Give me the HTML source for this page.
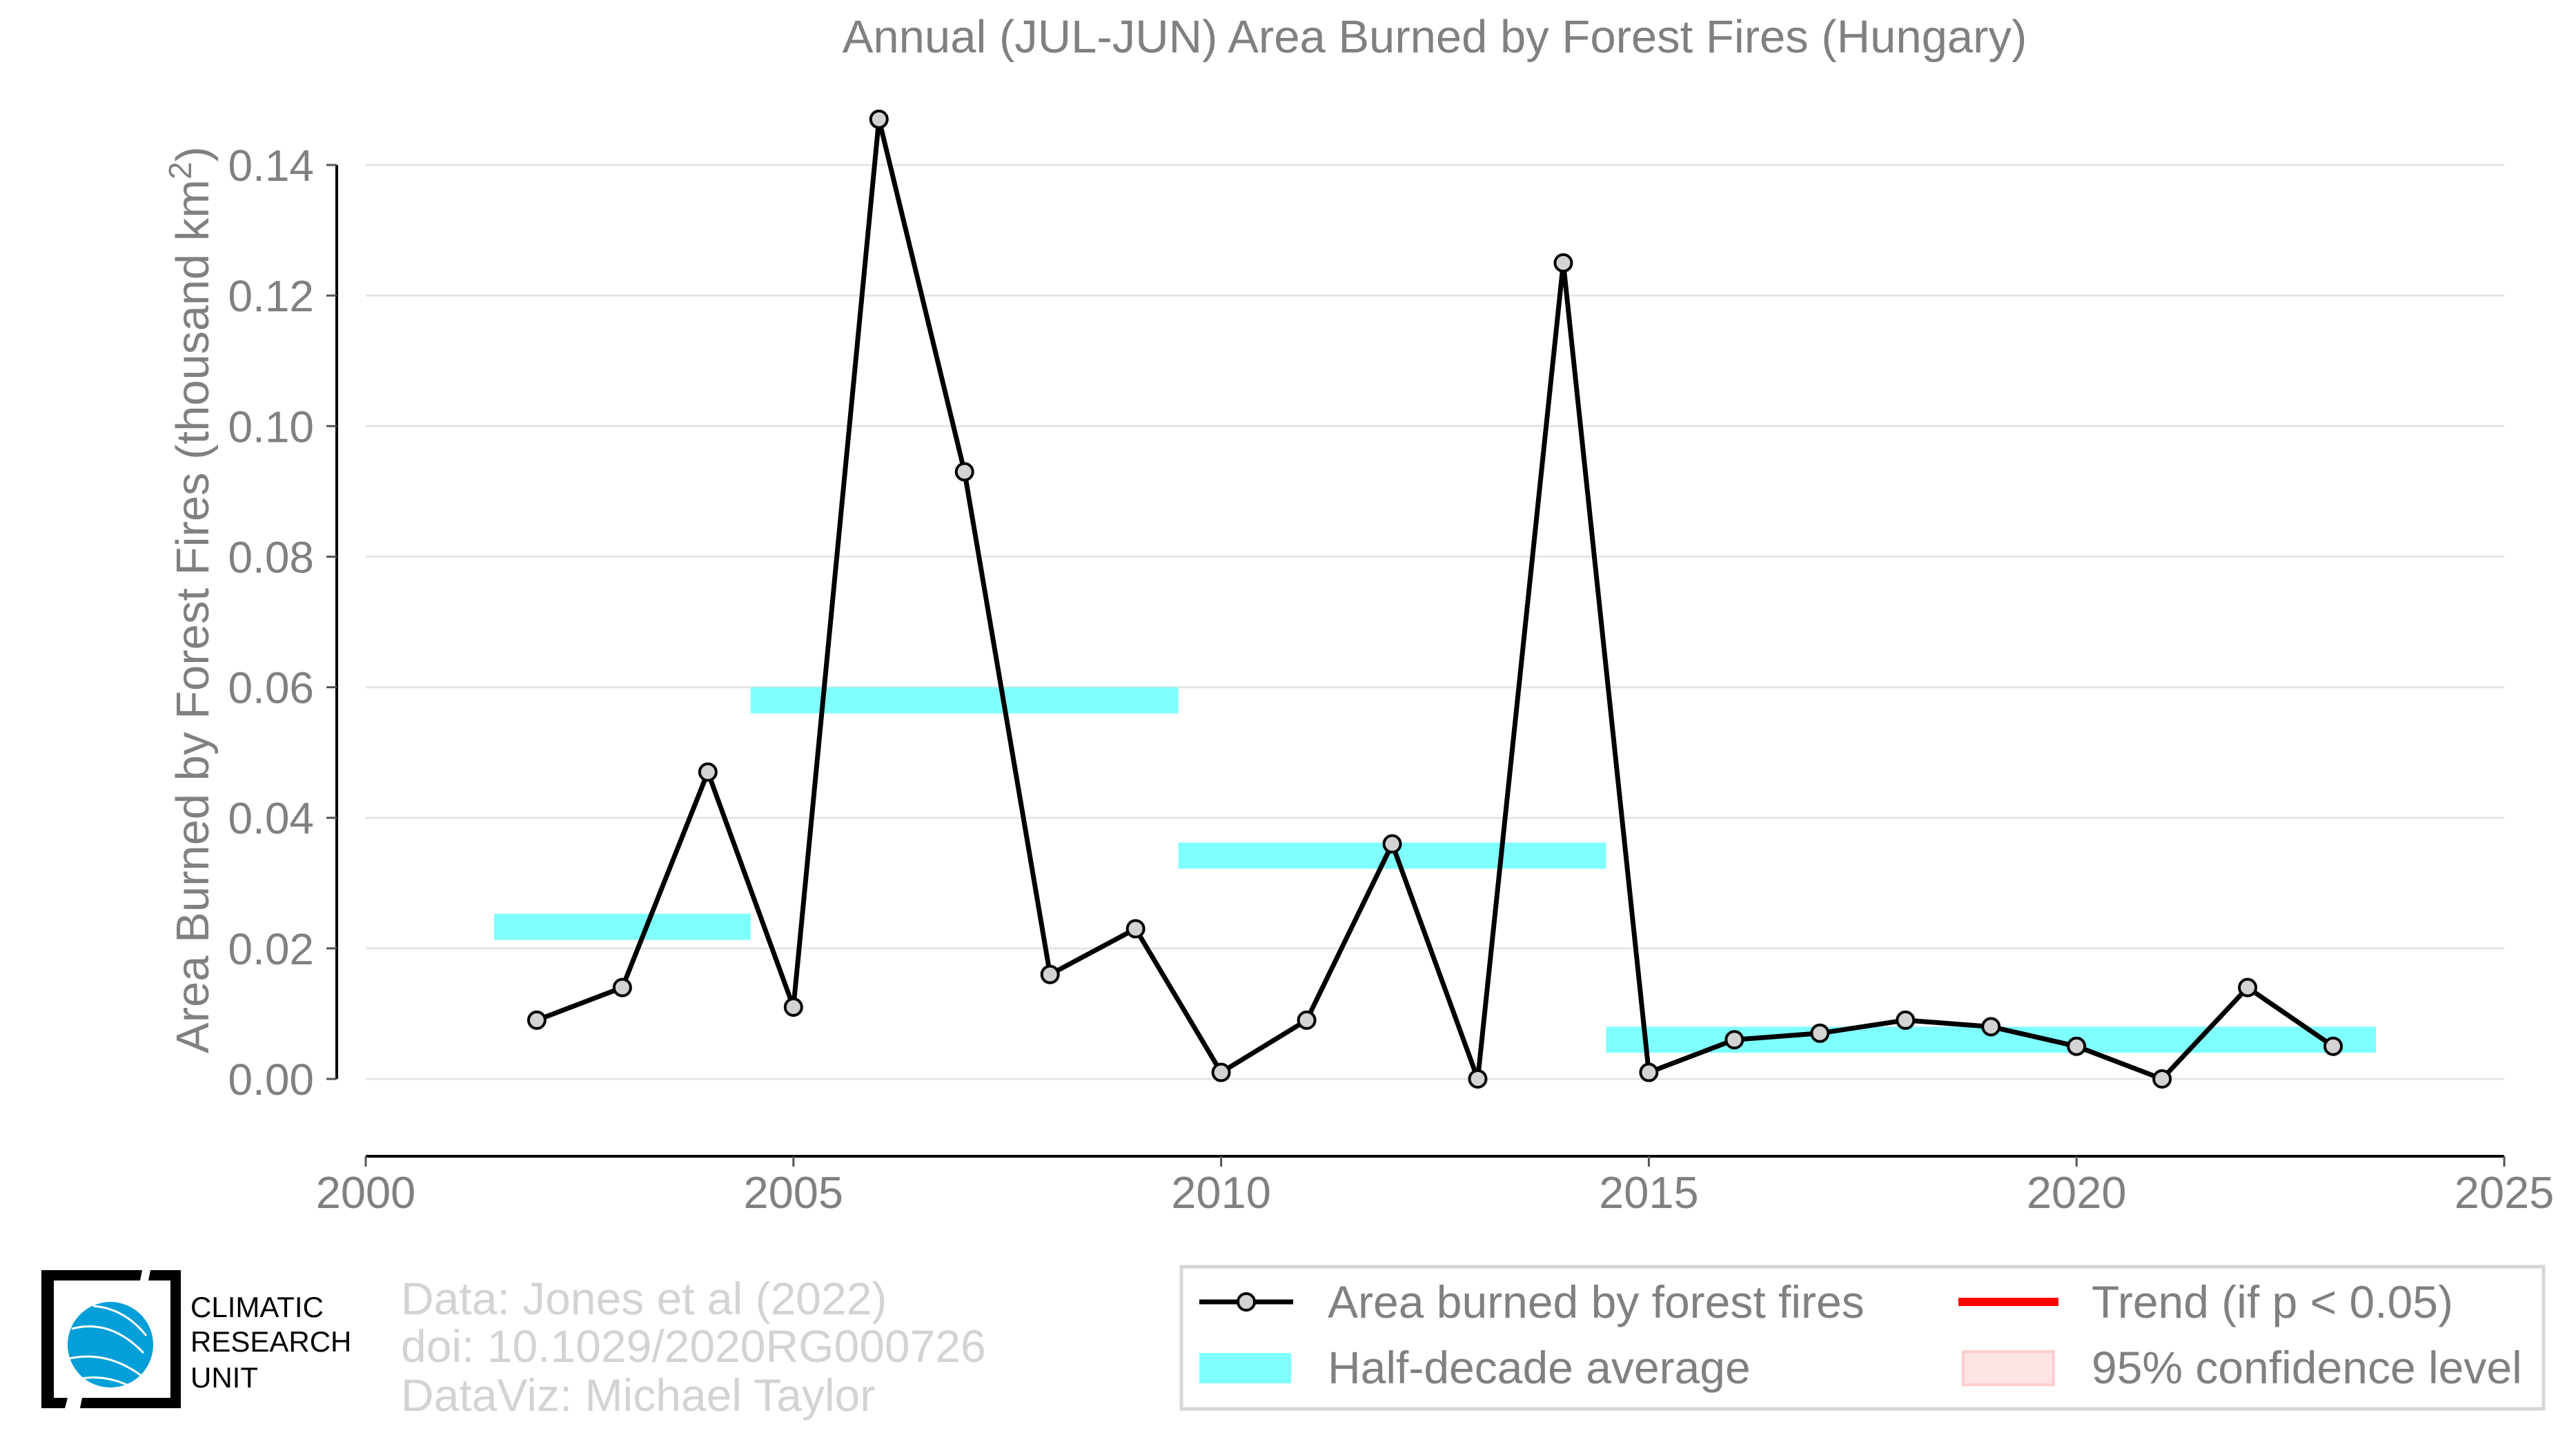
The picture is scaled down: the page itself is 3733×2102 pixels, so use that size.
<!DOCTYPE html>
<html><head><meta charset="utf-8">
<style>
html,body{margin:0;padding:0;background:#fff;}
svg{display:block;font-family:"Liberation Sans",Arial,sans-serif;}
</style></head>
<body>
<svg id="chart" width="3733" height="2102" viewBox="0 0 3733 2102" xmlns="http://www.w3.org/2000/svg">
<rect width="3733" height="2102" fill="#fff"/>
<text x="2079" y="76" font-size="67" fill="#808080" text-anchor="middle">Annual (JUL-JUN) Area Burned by Forest Fires (Hungary)</text>
<g id="grid"></g>
<g id="yaxis"></g>
<g id="xaxis"></g>
<g id="bars"></g>
<g id="series"></g>
<text transform="translate(302,869) rotate(-90)" font-size="67" fill="#808080" text-anchor="middle">Area Burned by Forest Fires (thousand km<tspan dy="-25" font-size="46">2</tspan><tspan dy="25">)</tspan></text>

<g>
<path d="M60 1840 H206 L203 1855 H78 V2025 H98 L94 2040 H60 Z" fill="#000"/>
<path d="M218 1840 H262 V2040 H116 L119 2025 H247 V1855 H215 Z" fill="#000"/>
<ellipse cx="160" cy="1948" rx="62" ry="62" fill="#049fd9"/>
<path d="M104 1925 Q160 1910 208 1960 M100 1968 Q160 1955 214 2000 M112 1998 Q150 1990 188 2008 M135 1892 Q180 1895 212 1935" stroke="#fff" stroke-width="3" fill="none"/>
<text x="276" y="1908" font-size="42" fill="#000">CLIMATIC</text>
<text x="276" y="1958" font-size="42" fill="#000">RESEARCH</text>
<text x="276" y="2010" font-size="42" fill="#000">UNIT</text>
</g>
<g font-size="66" fill="#d3d3d3">
<text x="581" y="1904">Data: Jones et al (2022)</text>
<text x="581" y="1973">doi: 10.1029/2020RG000726</text>
<text x="581" y="2044">DataViz: Michael Taylor</text>
</g>

<g>
<rect x="1712" y="1835" width="1974" height="206" fill="#fff" stroke="#d6d6d6" stroke-width="5"/>
<g>
<line x1="1738" y1="1886" x2="1874" y2="1886" stroke="#000" stroke-width="7"/>
<circle cx="1806" cy="1886" r="12" fill="#d3d3d3" stroke="#000" stroke-width="4"/>
<text x="1924" y="1909" font-size="66" fill="#808080">Area burned by forest fires</text>
</g>
<g>
<rect x="2838" y="1880" width="145" height="12" fill="#ff0000"/>
<text x="3031" y="1909" font-size="66" fill="#808080">Trend (if p &lt; 0.05)</text>
</g>
<g>
<rect x="1738" y="1960" width="133" height="44" fill="#80ffff"/>
<text x="1924" y="2004" font-size="66" fill="#808080">Half-decade average</text>
</g>
<g>
<rect x="2845" y="1958" width="131" height="48" fill="#ffe4e6" stroke="#ffcccc" stroke-width="4"/>
<text x="3031" y="2004" font-size="66" fill="#808080">95% confidence level</text>
</g>
</g>
</svg>
<script>
const years = [2002,2003,2004,2005,2006,2007,2008,2009,2010,2011,2012,2013,2014,2015,2016,2017,2018,2019,2020,2021,2022,2023];
const areaValues = [0.009,0.014,0.047,0.011,0.147,0.093,0.016,0.023,0.001,0.009,0.036,0.000,0.125,0.001,0.006,0.007,0.009,0.008,0.005,0.000,0.014,0.005];
const halfStart = [2001.5,2004.5,2009.5,2014.5];
const halfEnd = [2004.5,2009.5,2014.5,2023.5];
const halfValues = [0.0233,0.058,0.0342,0.006];
const yTicks = [0,0.02,0.04,0.06,0.08,0.10,0.12,0.14];
const yTickLabels = ["0.00","0.02","0.04","0.06","0.08","0.10","0.12","0.14"];
const xTicks = [2000,2005,2010,2015,2020,2025];

const NS = "http://www.w3.org/2000/svg";
const X0 = 530, X1 = 3629, Y0 = 1563, Y1 = 239;
function xs(v){ return X0 + (v - 2000) / 25 * (X1 - X0); }
function ys(v){ return Y0 - v / 0.14 * (Y0 - Y1); }
function mk(tag, attrs, parent){
  const e = document.createElementNS(NS, tag);
  for (const k in attrs) e.setAttribute(k, attrs[k]);
  parent.appendChild(e);
  return e;
}
const grid = document.getElementById('grid');
const yaxis = document.getElementById('yaxis');
const xaxis = document.getElementById('xaxis');
const bars = document.getElementById('bars');
const series = document.getElementById('series');

mk('line',{x1:488,y1:ys(0.14),x2:488,y2:ys(0),stroke:'#000','stroke-width':4},yaxis);
yTicks.forEach((t,i)=>{
  const g = mk('line',{x1:X0,y1:ys(t),x2:X1,y2:ys(t),stroke:'#e5e5e5','stroke-width':3},grid);
  
  
  mk('line',{x1:473,y1:ys(t),x2:488,y2:ys(t),stroke:'#555','stroke-width':3},yaxis);
  const tx = mk('text',{x:455,y:ys(t)+23,'font-size':64,fill:'#808080','text-anchor':'end'},yaxis);
  tx.textContent = yTickLabels[i];
  
  
});
mk('line',{x1:X0,y1:1675,x2:X1,y2:1675,stroke:'#000','stroke-width':4},xaxis);
xTicks.forEach(t=>{
  mk('line',{x1:xs(t),y1:1675,x2:xs(t),y2:1690,stroke:'#555','stroke-width':3},xaxis);
  const tx = mk('text',{x:xs(t),y:1750,'font-size':65,fill:'#808080','text-anchor':'middle'},xaxis);
  tx.textContent = t;
  
  
});
halfValues.forEach((v,i)=>{
  const half = 0.002;
  const r = mk('rect',{x:xs(halfStart[i]),y:ys(v+half),width:xs(halfEnd[i])-xs(halfStart[i]),height:ys(v-half)-ys(v+half),fill:'#80ffff'},bars);
  
  
});
const pts = years.map((y,i)=>xs(y)+','+ys(areaValues[i])).join(' ');
const pl = mk('polyline',{points:pts,fill:'none',stroke:'#000','stroke-width':7,'stroke-linejoin':'round'},series);


years.forEach((y,i)=>{
  const c = mk('circle',{cx:xs(y),cy:ys(areaValues[i]),r:12,fill:'#d3d3d3',stroke:'#000','stroke-width':4},series);
  
  
});
</script>
</body></html>
